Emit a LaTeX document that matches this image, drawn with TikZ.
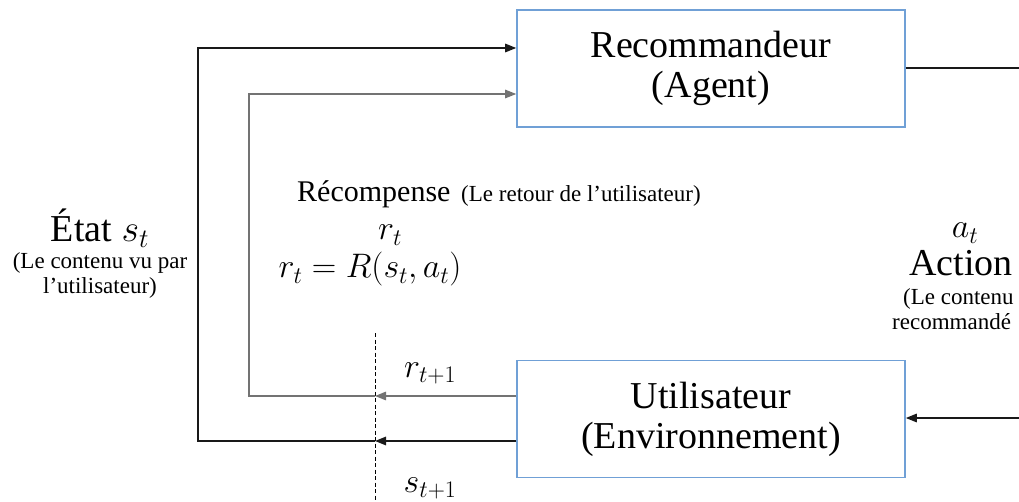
\RequirePackage{fix-cm}
\documentclass[tikz,border=0pt]{standalone}
\usepackage{fontspec}
\setmainfont{Liberation Serif}
\usetikzlibrary{arrows.meta}
\definecolor{boxblue}{RGB}{112,160,214}
\begin{document}
\begin{tikzpicture}[x=1pt,y=-1pt,
  box/.style={draw=boxblue, line width=1.6pt, minimum width=388pt, minimum height=117pt, inner sep=0pt, align=center, font=\fontsize{38}{40}\selectfont},
  blk/.style={line width=1.5pt, black!90},
  gry/.style={line width=1.2pt, black!55},
  tip/.style={-{Triangle[length=11pt,width=8.5pt]}},
  big/.style={font=\fontsize{38}{40}\selectfont, inner sep=0pt},
  mid/.style={font=\fontsize{30}{34}\selectfont, inner sep=0pt},
  small/.style={font=\fontsize{23}{26}\selectfont, inner sep=0pt},
  mth/.style={font=\fontsize{34}{36}\selectfont, inner sep=0pt},
  dashline/.style={line width=1pt, dash pattern=on 4pt off 2.5pt}
]
\useasboundingbox (0,0) rectangle (1019,502);
\node[box] (agent) at (711,68.5) {Recommandeur\\(Agent)};
\node[box] (env) at (711,419) {Utilisateur\\(Environnement)};
\coordinate (sA) at (198,48);
\coordinate (sB) at (198,441);
\coordinate (rA) at (249,94);
\coordinate (rB) at (249,396);
\coordinate (sX) at (375,441);
\coordinate (rX) at (375,396);
\coordinate (aR) at (1019,68);
\coordinate (eR) at (1019,418);
\coordinate (dT) at (375,333);
\coordinate (dB) at (375,502);
\draw[dashline] (dT) -- (dB);
\draw[blk,tip] (env.west |- sB) -- (sX);
\draw[blk,tip] (sX) -- (sB) -- (sA) -- (agent.west |- sA);
\draw[gry,tip] (env.west |- rB) -- (rX);
\draw[gry,tip] (rX) -- (rB) -- (rA) -- (agent.west |- rA);
\draw[blk] (agent.east |- aR) -- (aR);
\draw[blk,tip] (eR) -- (env.east |- eR);
\node[big, anchor=base] (etat) at (100,242) {État $s_t$};
\node[small, anchor=base] (etat1) at (100,269) {(Le contenu vu par};
\node[small, anchor=base] (etat2) at (100,294) {l’utilisateur)};
\node[mid, anchor=base west] (rec) at (297,202) {Récompense};
\node[small, anchor=base west] (rec1) at (461,202) {(Le retour de l’utilisateur)};
\node[mth, anchor=base] (rt) at (390,240) {$r_t$};
\node[mth, anchor=base] (rf) at (370,278) {$r_t = R(s_t,a_t)$};
\node[mth, anchor=base] (at) at (965,238) {$a_t$};
\node[big, anchor=base] (act) at (961,276) {Action};
\node[small, anchor=base west] (act1) at (903,305) {(Le contenu};
\node[small, anchor=base west] (act2) at (892,329) {recommandé};
\node[mth, anchor=base] (rt1) at (430,377) {$r_{t+1}$};
\node[mth, anchor=base] (st1) at (430,492) {$s_{t+1}$};
\end{tikzpicture}
\end{document}
